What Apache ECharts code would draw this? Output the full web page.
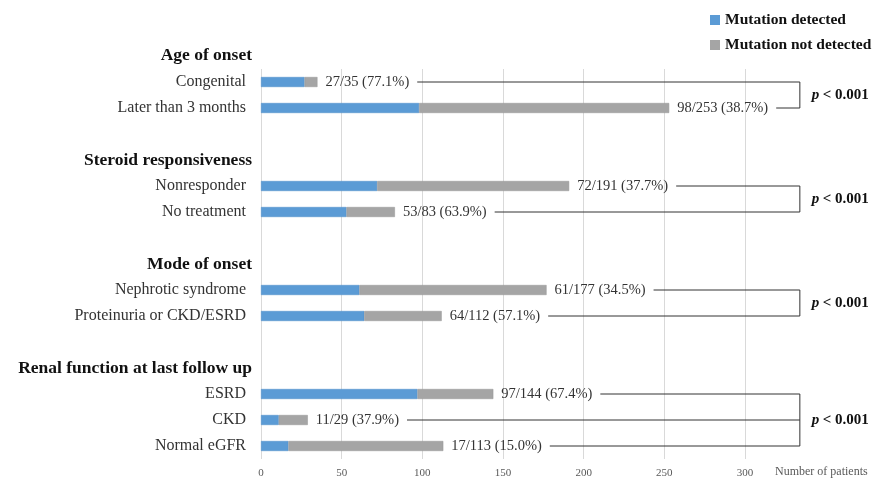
<!DOCTYPE html>
<html>
<head>
<meta charset="utf-8">
<script src="https://cdn.jsdelivr.net/npm/echarts@6/dist/echarts.min.js"></script>
<style>
  html, body { margin: 0; padding: 0; background: #fff; }
  #chart { width: 872px; height: 479px; }
</style>
</head>
<body>
<div id="chart"></div>
<script>
// rows of the chart, top to bottom ('' = spacer row)
const categories = [
  'Congenital', 'Later than 3 months', '',
  'Steroid responsiveness', 'Nonresponder', 'No treatment', '',
  'Mode of onset', 'Nephrotic syndrome', 'Proteinuria or CKD/ESRD', '',
  'Renal function at last follow up', 'ESRD', 'CKD', 'Normal eGFR'
]
const headers = ['Steroid responsiveness', 'Mode of onset', 'Renal function at last follow up']
const firstHeader = 'Age of onset'

const detected    = [27, 98, null, null, 72, 53, null, null, 61, 64, null, null, 97, 11, 17]
const notDetected = [8, 155, null, null, 119, 30, null, null, 116, 48, null, null, 47, 18, 96]

const comparisons = [
  { rows: ['Congenital', 'Later than 3 months'], p: '< 0.001' },
  { rows: ['Nonresponder', 'No treatment'], p: '< 0.001' },
  { rows: ['Nephrotic syndrome', 'Proteinuria or CKD/ESRD'], p: '< 0.001' },
  { rows: ['ESRD', 'CKD', 'Normal eGFR'], p: '< 0.001' }
]

const xTicks = [0, 50, 100, 150, 200, 250, 300]

const SERIF = '"Liberation Serif", "DejaVu Serif", serif'
const LABEL_SIZE = 14.5
const LABEL_GAP = 8
const LINE_GAP = 8
const BRACKET_AT = 334

function rowLabel(i){
  let d = detected[i]
  let t = detected[i] + notDetected[i]
  return d + '/' + t + ' (' + (d / t * 100).toFixed(1) + '%)'
}

let measureCtx = document.createElement('canvas').getContext('2d')
function textWidth(str){
  measureCtx.font = LABEL_SIZE + 'px ' + SERIF
  return measureCtx.measureText(str).width
}

let myChart = echarts.init(document.getElementById('chart'))

let option = {
  animation: false,
  textStyle: { fontFamily: SERIF },
  legend: {
    orient: 'vertical',
    left: 705,
    top: 7,
    itemWidth: 10,
    itemHeight: 10,
    itemGap: 9,
    icon: 'rect',
    itemStyle: { borderWidth: 0 },
    textStyle: { fontFamily: SERIF, fontSize: 15.5, fontWeight: 'bold', color: '#111' },
    data: ['Mutation detected', 'Mutation not detected']
  },
  grid: {
    left: 261,
    right: 127,
    top: 69,
    bottom: 20
  },
  xAxis: {
    type: 'value',
    min: xTicks[0],
    max: xTicks[xTicks.length - 1],
    interval: 50,
    name: 'Number of patients',
    nameLocation: 'end',
    nameGap: 30,
    nameTextStyle: {
      fontFamily: SERIF, fontSize: 12, color: '#595959',
      align: 'left', verticalAlign: 'top', padding: [7, 0, 0, 0]
    },
    axisLine: { show: false },
    axisTick: { show: false },
    axisLabel: { fontFamily: SERIF, fontSize: 11, color: '#595959', margin: 9 },
    splitLine: { lineStyle: { color: '#d9d9d9', width: 1 } }
  },
  yAxis: {
    type: 'category',
    inverse: true,
    data: categories,
    name: firstHeader,
    nameLocation: 'start',
    nameGap: 14,
    nameTextStyle: {
      fontFamily: SERIF, fontSize: 17.5, fontWeight: 'bold', color: '#111',
      align: 'right', verticalAlign: 'middle', padding: [0, 9, 0, 0]
    },
    axisLine: { show: false },
    axisTick: { show: false },
    axisLabel: {
      margin: 9,
      formatter: v => {
        if (!v) return ''
        return headers.indexOf(v) >= 0 ? '{h|' + v + '}' : '{n|' + v + '}'
      },
      rich: {
        h: { fontFamily: SERIF, fontSize: 17.5, fontWeight: 'bold', color: '#111' },
        n: { fontFamily: SERIF, fontSize: 16, color: '#333', padding: [0, 6, 0, 0] }
      }
    },
    splitLine: { show: false }
  },
  series: [
    {
      name: 'Mutation detected',
      type: 'bar',
      stack: 'total',
      barWidth: 10,
      data: detected,
      itemStyle: { color: '#5b9bd5', borderColor: '#4f8fca', borderWidth: 0.5 }
    },
    {
      name: 'Mutation not detected',
      type: 'bar',
      stack: 'total',
      barWidth: 10,
      data: notDetected,
      itemStyle: { color: '#a5a5a5', borderColor: '#969696', borderWidth: 0.5 },
      label: {
        show: true,
        position: 'right',
        distance: LABEL_GAP,
        fontFamily: SERIF,
        fontSize: LABEL_SIZE,
        color: '#333',
        formatter: p => rowLabel(p.dataIndex)
      }
    },
    {
      type: 'custom',
      clip: false,
      silent: true,
      data: comparisons.map(c => [BRACKET_AT, categories.indexOf(c.rows[0])]),
      renderItem: (params, api) => {
        let c = comparisons[params.dataIndex]
        let children = []
        let ys = []
        let xb = 0
        c.rows.forEach(r => {
          let i = categories.indexOf(r)
          let end = api.coord([detected[i] + notDetected[i], i])
          xb = api.coord([BRACKET_AT, i])[0]
          let x0 = end[0] + LABEL_GAP + textWidth(rowLabel(i)) + LINE_GAP
          children.push({
            type: 'line',
            shape: { x1: x0, y1: end[1], x2: xb, y2: end[1] },
            style: { stroke: '#333', lineWidth: 1 }
          })
          ys.push(end[1])
        })
        let y1 = Math.min(...ys)
        let y2 = Math.max(...ys)
        children.push({
          type: 'line',
          shape: { x1: xb, y1: y1, x2: xb, y2: y2 },
          style: { stroke: '#333', lineWidth: 1 }
        })
        children.push({
          type: 'text',
          x: xb + 12,
          y: (y1 + y2) / 2,
          style: {
            text: '{p|p} {v|' + c.p + '}',
            verticalAlign: 'middle',
            rich: {
              p: { fontFamily: SERIF, fontSize: 15, fontWeight: 'bold', fontStyle: 'italic', fill: '#111' },
              v: { fontFamily: SERIF, fontSize: 15, fontWeight: 'bold', fill: '#111' }
            }
          }
        })
        return { type: 'group', children: children }
      }
    }
  ]
}

myChart.setOption(option)
</script>
</body>
</html>
